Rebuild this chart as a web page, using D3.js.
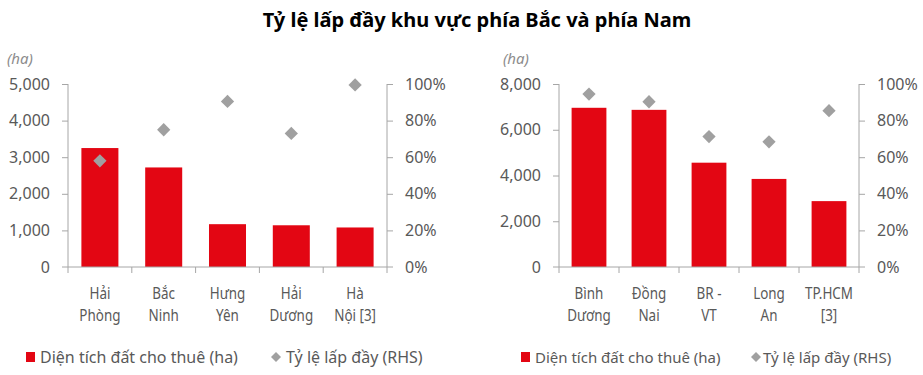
<!DOCTYPE html>
<html>
<head>
<meta charset="utf-8">
<script src="https://cdn.jsdelivr.net/npm/d3@7"></script>
<style>
  body { margin: 0; background: #fff; }
  svg { display: block; }
</style>
</head>
<body>
<div id="chart"></div>
<script>
// two side-by-side combo charts: bars = leased area (ha), diamonds = occupancy (RHS)

const width = 923;
const height = 375;

const northLabels = [["Hải", "Phòng"], ["Bắc", "Ninh"], ["Hưng", "Yên"], ["Hải", "Dương"], ["Hà", "Nội [3]"]];
const northArea = [3250, 2720, 1170, 1140, 1080];
const northRate = [0.58, 0.75, 0.905, 0.73, 0.995];
const northTicks = [0, 1000, 2000, 3000, 4000, 5000];

const southLabels = [["Bình", "Dương"], ["Đồng", "Nai"], ["BR -", "VT"], ["Long", "An"], ["TP.HCM", "[3]"]];
const southArea = [6960, 6870, 4560, 3850, 2880];
const southRate = [0.945, 0.903, 0.713, 0.684, 0.854];
const southTicks = [0, 2000, 4000, 6000, 8000];

const rateTicks = [0, 0.2, 0.4, 0.6, 0.8, 1.0];

const RED = "#e30613";
const GREY = "#a0a0a0";
const AXIS = "#a6a6a6";
const TEXT = "#595959";
const FONT = "'Noto Sans', sans-serif";

const svg = d3.select("#chart")
  .append("svg")
  .attr("width", width)
  .attr("height", height)
  .style("font-family", FONT);

svg.append("text")
  .attr("x", 477)
  .attr("y", 27)
  .attr("text-anchor", "middle")
  .style("font-size", "20px")
  .style("font-weight", "bold")
  .style("fill", "#000")
  .text("Tỷ lệ lấp đầy khu vực phía Bắc và phía Nam");

function panel(opt) {
  const g = svg.append("g");
  const names = opt.labels.map((d, i) => i);

  const x = d3.scaleBand()
    .domain(names)
    .range([opt.x0, opt.x1])
    .paddingInner(0.42)
    .paddingOuter(0.21);

  const y = d3.scaleLinear().domain([0, opt.max]).range([267, 84]);
  const y2 = d3.scaleLinear().domain([0, 1]).range([267, 84]);

  // bars
  g.selectAll("rect.bar")
    .data(opt.area)
    .join("rect")
    .attr("class", "bar")
    .attr("x", (d, i) => x(i))
    .attr("width", x.bandwidth())
    .attr("y", d => y(d))
    .attr("height", d => y(0) - y(d))
    .attr("fill", RED);

  // left axis
  const left = g.append("g")
    .attr("transform", `translate(${opt.x0},0)`)
    .call(d3.axisLeft(y).tickValues(opt.ticks).tickSize(6).tickPadding(12)
      .tickFormat(d3.format(",")));

  // right axis
  const right = g.append("g")
    .attr("transform", `translate(${opt.x1},0)`)
    .call(d3.axisRight(y2).tickValues(rateTicks).tickSize(6).tickPadding(12)
      .tickFormat(d3.format(".0%")));

  [left, right].forEach(a => {
    a.select(".domain").attr("stroke", AXIS).attr("d", `M0,${y(0)}V${y(opt.max)}`);
    a.selectAll(".tick line").attr("stroke", AXIS);
    a.selectAll(".tick text")
      .style("font-family", FONT)
      .style("font-size", "16px")
      .attr("fill", TEXT);
  });
  left.select(".tick:first-of-type line").remove();
  right.select(".tick:first-of-type line").remove();

  // bottom axis with ticks at band boundaries
  const step = x.step();
  const bounds = d3.range(opt.labels.length + 1).map(i => opt.x0 + i * step);
  g.append("line")
    .attr("x1", opt.x0 - 6).attr("x2", opt.x1 + 6)
    .attr("y1", y(0)).attr("y2", y(0))
    .attr("stroke", AXIS);
  g.selectAll("line.xt")
    .data(bounds)
    .join("line")
    .attr("class", "xt")
    .attr("x1", d => d).attr("x2", d => d)
    .attr("y1", y(0)).attr("y2", y(0) + 6)
    .attr("stroke", AXIS);

  // category labels (narrowed to look like the condensed face in the source)
  const lab = g.selectAll("text.cat")
    .data(opt.labels)
    .join("text")
    .attr("class", "cat")
    .attr("text-anchor", "middle")
    .attr("transform", (d, i) => `translate(${x(i) + x.bandwidth() / 2},0) scale(0.84,1)`)
    .style("font-size", "16px")
    .attr("fill", TEXT);
  lab.selectAll("tspan")
    .data(d => d)
    .join("tspan")
    .attr("x", 0)
    .attr("y", (d, j) => 299 + j * 22)
    .text(d => d);

  // diamonds
  const diamond = d3.symbol().type(d3.symbolSquare).size(88);
  g.selectAll("path.pt")
    .data(opt.rate)
    .join("path")
    .attr("class", "pt")
    .attr("d", diamond)
    .attr("transform", (d, i) =>
      `translate(${x(i) + x.bandwidth() / 2},${y2(d)}) rotate(45)`)
    .attr("fill", GREY);

  // unit label
  g.append("text")
    .attr("x", opt.unitX)
    .attr("y", 64)
    .style("font-size", "15px")
    .style("font-style", "italic")
    .attr("fill", "#8c8c8c")
    .text("(ha)");

  // legend
  const L = opt.leg;
  const lg = g.append("g").attr("transform", "translate(0,357)");
  lg.append("rect")
    .attr("x", L.sq).attr("y", -5)
    .attr("width", 9).attr("height", 10)
    .attr("fill", RED);
  lg.append("text")
    .attr("x", L.t1).attr("y", 6)
    .style("font-size", L.fs + "px")
    .attr("fill", TEXT)
    .text("Diện tích đất cho thuê (ha)");
  lg.append("path")
    .attr("d", d3.symbol().type(d3.symbolSquare).size(50))
    .attr("transform", `translate(${L.dm},0) rotate(45)`)
    .attr("fill", GREY);
  lg.append("text")
    .attr("x", L.t2).attr("y", 6)
    .style("font-size", L.fs + "px")
    .attr("fill", TEXT)
    .text("Tỷ lệ lấp đầy (RHS)");
}

panel({
  labels: northLabels, area: northArea, rate: northRate,
  ticks: northTicks, max: 5000, x0: 68, x1: 387, unitX: 7,
  leg: { sq: 26, t1: 40, dm: 276, t2: 286, fs: 16 }
});

panel({
  labels: southLabels, area: southArea, rate: southRate,
  ticks: southTicks, max: 8000, x0: 559, x1: 859, unitX: 503,
  leg: { sq: 521, t1: 535, dm: 756, t2: 763, fs: 15 }
});
</script>
</body>
</html>
